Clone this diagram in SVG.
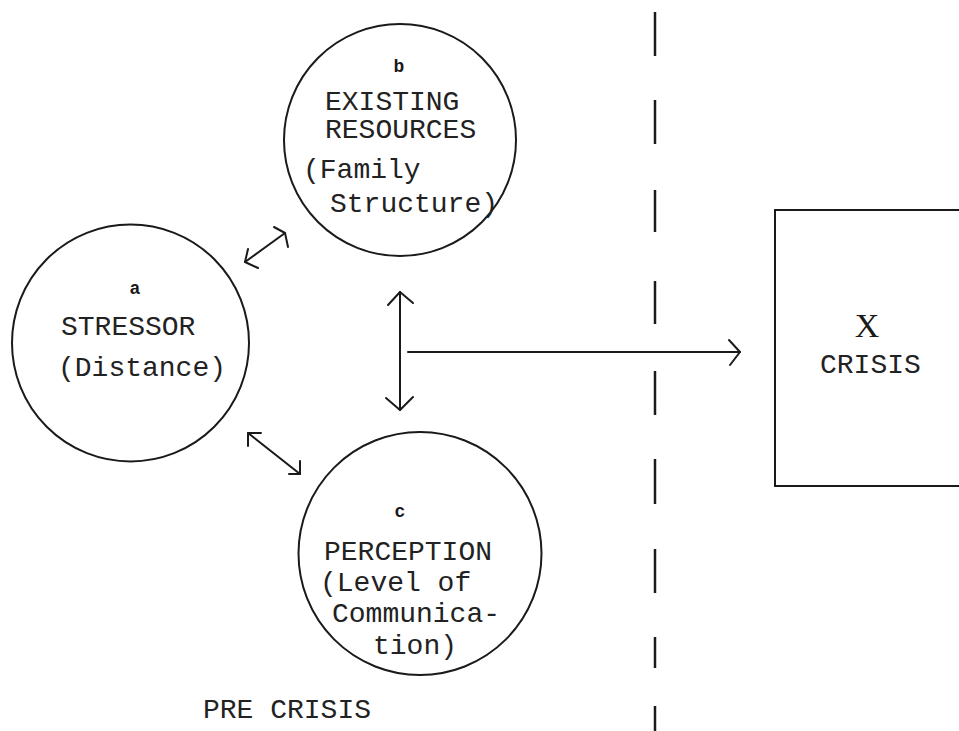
<svg xmlns="http://www.w3.org/2000/svg" width="959" height="731" viewBox="0 0 959 731">
<style>
.node{fill:none;stroke:#1a1a1a;stroke-width:2}
.t{font-family:"Liberation Mono","DejaVu Sans Mono",monospace;font-size:28px;fill:#222222}
.s{font-family:"Liberation Mono","DejaVu Sans Mono",monospace;font-size:18px;font-weight:bold;fill:#1a1a1a;text-anchor:middle}
.x{font-family:"Liberation Serif","DejaVu Serif",serif;font-size:34px;fill:#1a1a1a;text-anchor:middle}
.c{fill:none;stroke:#1a1a1a;stroke-width:2;stroke-linecap:round;stroke-linejoin:round}
.d{stroke:#1a1a1a;stroke-width:2.5}
</style>
<rect width="959" height="731" fill="#ffffff"/>
<g id="divider">
<line class="d" x1="655" y1="12" x2="655" y2="56"/>
<line class="d" x1="655" y1="100" x2="655" y2="144"/>
<line class="d" x1="655" y1="190" x2="655" y2="232"/>
<line class="d" x1="655" y1="281" x2="655" y2="324"/>
<line class="d" x1="655" y1="371" x2="655" y2="415"/>
<line class="d" x1="655" y1="459" x2="655" y2="504"/>
<line class="d" x1="655" y1="549" x2="655" y2="593"/>
<line class="d" x1="655" y1="637" x2="655" y2="668"/>
<line class="d" x1="655" y1="706" x2="655" y2="731"/>
</g>
<g id="node-a">
<circle class="node" cx="130.5" cy="343" r="118.5"/>
<text class="s" x="135" y="294">a</text>
<text class="t" x="61" y="335">STRESSOR</text>
<text class="t" x="58" y="376">(Distance)</text>
</g>
<g id="node-b">
<circle class="node" cx="400" cy="140" r="116"/>
<text class="s" x="399" y="72">b</text>
<text class="t" x="325" y="110">EXISTING</text>
<text class="t" x="325" y="138">RESOURCES</text>
<text class="t" x="303" y="178">(Family</text>
<text class="t" x="330" y="212">Structure)</text>
</g>
<g id="node-c">
<circle class="node" cx="420" cy="553.5" r="121.5"/>
<text class="s" x="400" y="517">c</text>
<text class="t" x="324" y="560">PERCEPTION</text>
<text class="t" x="320" y="591">(Level of</text>
<text class="t" x="332" y="622">Communica-</text>
<text class="t" x="373" y="654">tion)</text>
</g>
<g id="node-x">
<rect class="node" x="775" y="210" width="200" height="276"/>
<text class="x" x="867" y="337">X</text>
<text class="t" x="820" y="373">CRISIS</text>
</g>
<g id="label-pre">
<text class="t" x="203" y="718">PRE CRISIS</text>
</g>
<g id="connectors">
<path class="c" d="M245,262 L285,233"/>
<path class="c" d="M248,249 L245,262 L258,268"/>
<path class="c" d="M274,227 L285,233 L288,247"/>
<path class="c" d="M248,433 L300,474"/>
<path class="c" d="M248,446 L248,433 L261,433"/>
<path class="c" d="M300,461 L300,474 L289,474"/>
<path class="c" d="M400,292 L400,410"/>
<path class="c" d="M388,305 L400,292 L413,303"/>
<path class="c" d="M386,398 L400,410 L413,397"/>
<path class="c" d="M408,352 L740,352"/>
<path class="c" d="M729,340 L740,352 L730,365"/>
</g>
</svg>
